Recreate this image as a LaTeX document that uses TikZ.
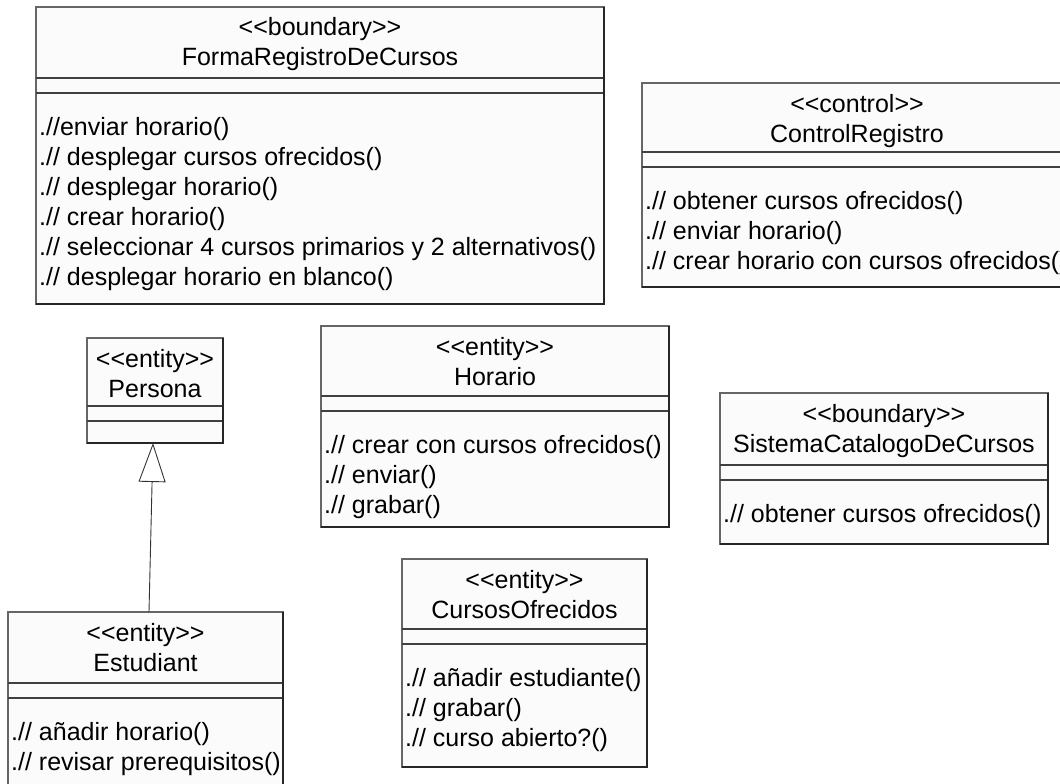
\documentclass[tikz,border=0pt]{standalone}
\usepackage{fontspec}
\newfontfamily\umlfont{Liberation Sans}
\usetikzlibrary{arrows.meta}

% A UML class frame: name, x, y (top left), width, height, header height, stereotype, class name
\newcommand{\umlclass}[8]{%
  \node[classframe, minimum width=#4pt, minimum height=#5pt] (#1) at (#2,#3) {};
  \draw[sepline] ([yshift=-#6pt]#1.north west) -- ([yshift=-#6pt]#1.north east);
  \draw[sepline] ([yshift=-#6pt-15pt]#1.north west) -- ([yshift=-#6pt-15pt]#1.north east);
  \draw[shadeline] (#1.north east) -- (#1.south east) -- (#1.south west);
  \node[umltext, anchor=base] (#1-stereo) at ([yshift=-29pt]#1.north) {#7};
  \node[umltext, anchor=base] (#1-name) at ([yshift=-59pt]#1.north) {#8};
}
% Operation lines of a class: name, offset of the first baseline from the top, list
\newcommand{\umlops}[3]{%
  \foreach \op [count=\k] in {#3}
    \node[umltext, anchor=base west] (#1-op\k)
      at ([xshift=3pt, yshift={-(#2+30*(\k-1))*1pt}]#1.north west) {\op};
}

\begin{document}
\begin{tikzpicture}[x=1pt, y=-1pt,
  classframe/.style={rectangle, draw=black!60, line width=1.1pt, fill=black!1.5,
    inner sep=0pt, outer sep=0pt, anchor=north west},
  sepline/.style={draw=black!75, line width=1.1pt},
  shadeline/.style={draw=black!85, line width=1.6pt},
  umltext/.style={font=\umlfont\fontsize{25}{30}\selectfont, inner sep=0pt, text=black},
  gen/.style={draw=black!80, line width=0.9pt,
    -{Triangle[open, length=39pt, width=27pt, line width=0.9pt]}}
]
\useasboundingbox (0,0) rectangle (1060,784);
\clip (0,0) rectangle (1060,784);
\fill[white] (0,0) rectangle (1060,784);

\umlclass{forma}{36}{7}{568}{297}{71}{<<boundary>>}{FormaRegistroDeCursos}
\umlops{forma}{128}{.//enviar horario(), .// desplegar cursos ofrecidos(), .// desplegar horario(), .// crear horario(), .// seleccionar 4 cursos primarios y 2 alternativos(), .// desplegar horario en blanco()}

\umlclass{control}{642}{83}{430}{204}{69}{<<control>>}{ControlRegistro}
\umlops{control}{126}{.// obtener cursos ofrecidos(), .// enviar horario(), .// crear horario con cursos ofrecidos()}

\umlclass{persona}{87}{338}{136}{105}{68}{<<entity>>}{Persona}

\umlclass{horario}{321}{326}{348}{201}{70}{<<entity>>}{Horario}
\umlops{horario}{127}{.// crear con cursos ofrecidos(), .// enviar(), .// grabar()}

\umlclass{sistema}{720}{393}{328}{151}{72}{<<boundary>>}{SistemaCatalogoDeCursos}
\umlops{sistema}{129}{.// obtener cursos ofrecidos()}

\umlclass{cursos}{402}{559}{245}{208}{70}{<<entity>>}{CursosOfrecidos}
\umlops{cursos}{127}{.// añadir estudiante(), .// grabar(), .// curso abierto?()}

\umlclass{estudiant}{8}{612}{275}{176}{71}{<<entity>>}{Estudiant}
\umlops{estudiant}{128}{.// añadir horario(), .// revisar prerequisitos()}

% Generalization: Estudiant specializes Persona
\draw[gen] ([xshift=3.5pt]estudiant.north) -- ([xshift=-2pt]persona.south);
\end{tikzpicture}
\end{document}
